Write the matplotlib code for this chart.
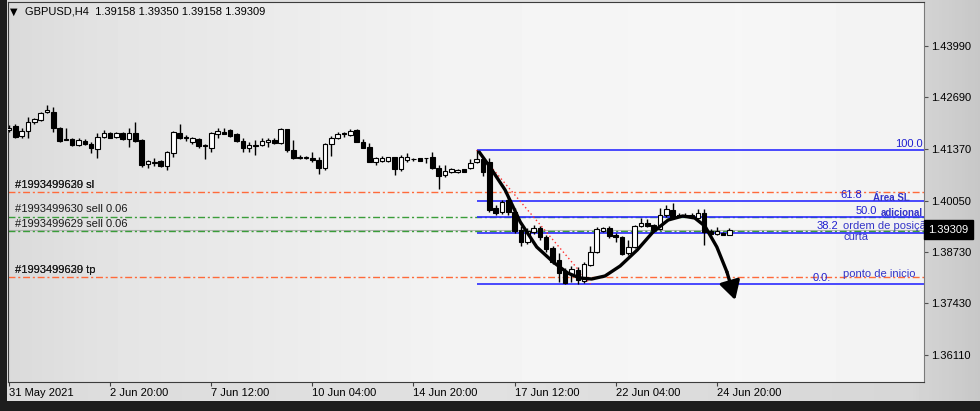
import numpy as np
import matplotlib
matplotlib.use("Agg")
import matplotlib.pyplot as plt

plt.rcParams['font.family'] = ['Liberation Sans', 'DejaVu Sans']

# ---- data ----
header = "GBPUSD,H4  1.39158 1.39350 1.39158 1.39309"

opens = [1.41848, 1.41950, 1.41695, 1.41823, 1.42052, 1.42103, 1.42307, 1.42307, 1.41899, 1.41619,
         1.41619, 1.41466, 1.41568, 1.41491, 1.41364, 1.41670, 1.41772, 1.41670, 1.41772, 1.41619,
         1.41772, 1.41593, 1.40981, 1.41007, 1.41058, 1.40930, 1.41262, 1.41772, 1.41670, 1.41542,
         1.41619, 1.41466, 1.41389, 1.41746, 1.41797, 1.41848, 1.41746, 1.41568, 1.41389, 1.41440,
         1.41466, 1.41542, 1.41593, 1.41517, 1.41874, 1.41338, 1.41160, 1.41134, 1.41134, 1.41083,
         1.40879, 1.41491, 1.41644, 1.41746, 1.41721, 1.41848, 1.41542, 1.41415, 1.41032, 1.41058,
         1.41058, 1.41160, 1.40854, 1.41083, 1.41109, 1.41134, 1.41134, 1.41160, 1.40879, 1.40701,
         1.40777, 1.40777, 1.40854, 1.40879, 1.41032, 1.41109, 1.41032, 1.39859, 1.39757, 1.40063,
         1.39757, 1.39298, 1.38992, 1.39247, 1.39349, 1.39120, 1.38839, 1.38533, 1.38253, 1.38176,
         1.38278, 1.37998, 1.38406, 1.38737, 1.39273, 1.39349, 1.39171, 1.39120, 1.38712, 1.38865,
         1.39400, 1.39477, 1.39426, 1.39324, 1.39681, 1.39808, 1.39681, 1.39655, 1.39681, 1.39604,
         1.39732, 1.39273, 1.39196, 1.39222, 1.39158]
highs = [1.41976, 1.42001, 1.41899, 1.42180, 1.42154, 1.42307, 1.42486, 1.42435, 1.41925, 1.41899,
         1.41644, 1.41644, 1.41619, 1.41542, 1.41772, 1.41848, 1.41797, 1.41797, 1.41797, 1.41899,
         1.42052, 1.41619, 1.41083, 1.41134, 1.41083, 1.41313, 1.41823, 1.42001, 1.41721, 1.41670,
         1.41644, 1.41491, 1.41797, 1.41899, 1.41899, 1.41874, 1.41772, 1.41644, 1.41542, 1.41593,
         1.41644, 1.41644, 1.41644, 1.41899, 1.41874, 1.41593, 1.41211, 1.41185, 1.41287, 1.41160,
         1.41517, 1.41695, 1.41797, 1.41797, 1.41874, 1.41874, 1.41619, 1.41517, 1.41160, 1.41185,
         1.41160, 1.41160, 1.41211, 1.41262, 1.41134, 1.41134, 1.41134, 1.41287, 1.40956, 1.40956,
         1.40879, 1.40854, 1.40854, 1.41109, 1.41338, 1.41160, 1.41134, 1.39936, 1.40063, 1.40140,
         1.39859, 1.39400, 1.39349, 1.39426, 1.39400, 1.39171, 1.38890, 1.38712, 1.38329, 1.38380,
         1.38355, 1.38482, 1.38890, 1.39375, 1.39375, 1.39400, 1.39222, 1.39145, 1.39043, 1.39426,
         1.39604, 1.39579, 1.39451, 1.39859, 1.39936, 1.39987, 1.39732, 1.39732, 1.39732, 1.39834,
         1.39834, 1.39324, 1.39375, 1.39247, 1.39350]
lows = [1.41797, 1.41644, 1.41644, 1.41644, 1.42001, 1.42078, 1.42282, 1.41797, 1.41542, 1.41593,
        1.41440, 1.41440, 1.41466, 1.41262, 1.41134, 1.41644, 1.41644, 1.41644, 1.41593, 1.41415,
        1.41542, 1.40905, 1.40879, 1.40930, 1.40905, 1.40828, 1.41160, 1.41619, 1.41568, 1.41491,
        1.41389, 1.41109, 1.41287, 1.41644, 1.41746, 1.41670, 1.41542, 1.41287, 1.41287, 1.41211,
        1.41440, 1.41415, 1.41491, 1.41491, 1.41287, 1.41109, 1.41109, 1.41109, 1.41032, 1.40726,
        1.40828, 1.41185, 1.41619, 1.41670, 1.41695, 1.41542, 1.41389, 1.41032, 1.40956, 1.41032,
        1.41032, 1.40701, 1.40803, 1.41032, 1.41058, 1.41058, 1.41007, 1.40854, 1.40344, 1.40650,
        1.40752, 1.40752, 1.40777, 1.40854, 1.41007, 1.40675, 1.39757, 1.39681, 1.39706, 1.39681,
        1.39222, 1.38890, 1.38941, 1.39196, 1.39043, 1.38737, 1.38431, 1.37972, 1.37921, 1.37972,
        1.37921, 1.37947, 1.38380, 1.38712, 1.39247, 1.39094, 1.38992, 1.38661, 1.38661, 1.38839,
        1.39375, 1.39375, 1.39273, 1.39298, 1.39630, 1.39604, 1.39630, 1.39630, 1.39630, 1.39579,
        1.38916, 1.39171, 1.39171, 1.39171, 1.39158]
closes = [1.41899, 1.41670, 1.41823, 1.42052, 1.42129, 1.42282, 1.42358, 1.41899, 1.41568, 1.41593,
          1.41466, 1.41593, 1.41491, 1.41389, 1.41670, 1.41772, 1.41644, 1.41772, 1.41619, 1.41772,
          1.41568, 1.40956, 1.41058, 1.41032, 1.40930, 1.41287, 1.41797, 1.41644, 1.41644, 1.41644,
          1.41440, 1.41440, 1.41772, 1.41823, 1.41746, 1.41695, 1.41568, 1.41389, 1.41466, 1.41466,
          1.41568, 1.41593, 1.41517, 1.41874, 1.41338, 1.41134, 1.41134, 1.41160, 1.41083, 1.40879,
          1.41491, 1.41644, 1.41746, 1.41772, 1.41823, 1.41542, 1.41389, 1.41032, 1.41134, 1.41134,
          1.41160, 1.40854, 1.41160, 1.41160, 1.41109, 1.41058, 1.41134, 1.40879, 1.40675, 1.40803,
          1.40854, 1.40828, 1.40777, 1.41007, 1.41109, 1.40777, 1.39808, 1.39732, 1.40012, 1.39757,
          1.39273, 1.38992, 1.39273, 1.39349, 1.39120, 1.38814, 1.38482, 1.38202, 1.37947, 1.38304,
          1.38023, 1.38431, 1.38737, 1.39324, 1.39349, 1.39145, 1.39120, 1.38686, 1.38865, 1.39400,
          1.39477, 1.39400, 1.39298, 1.39681, 1.39834, 1.39630, 1.39655, 1.39681, 1.39655, 1.39732,
          1.39247, 1.39196, 1.39273, 1.39158, 1.39309]

date_labels = ["31 May 2021", "2 Jun 20:00", "7 Jun 12:00", "10 Jun 04:00",
               "14 Jun 20:00", "17 Jun 12:00", "22 Jun 04:00", "24 Jun 20:00"]
bars_per_label = 16
price_ticks = [1.43990, 1.42690, 1.41370, 1.40050, 1.38730, 1.37430, 1.36110]

# fibonacci object
fib_start, fib_end = 74, 92
fib_high, fib_low = 1.41338, 1.37921
fib_levels = [0.0, 38.2, 50.0, 61.8, 100.0]
fib_texts = ["0.0.", "38.2", "50.0", "61.8", "100.0"]
fib_text_bar = [130.1, 131.2, 137.3, 135.0, 144.5]

# open orders
order_ids = ["#1993499629", "#1993499630"]
sl_price = 1.40267
tp_price = 1.38100
sell_prices = [1.39642, 1.39260]
sell_texts = ["#1993499630 sell 0.06", "#1993499629 sell 0.06"]

# hand drawn path (bar, price)
path_bars = [74.4, 76.1, 78.5, 80.9, 83.5, 86.1, 88.4, 90.3, 92.2, 94.3, 96.7,
             99.4, 101.9, 104.3, 106.6, 108.5, 110.1, 112.0, 113.6, 114.9]
path_prices = [1.41287, 1.40905, 1.40318, 1.39502, 1.38865, 1.38482, 1.38202, 1.38074,
               1.38049, 1.38125, 1.38380, 1.38788, 1.39247, 1.39553, 1.39655, 1.39604,
               1.39400, 1.38865, 1.38227, 1.37513]

# text notes (bar, price, text, size, bold)
notes = [(136.7, 1.40114, "Área SL", 7, True),
         (138.0, 1.39744, "adicional", 7, True),
         (132.0, 1.39400, "ordem de posição", 8, False),
         (132.0, 1.39107, "curta", 8, False),
         (132.0, 1.38176, "ponto de inicio", 8, False)]

# ---- layout (pixels of the 980x411 screenshot) ----
W, H = 980, 411
px_bar, x0_px = 6.32, 9.0
ax_l, ax_r, ax_t, ax_b = 8, 924, 2, 382
p0, p_px = 1.45163, 0.000255

fig = plt.figure(figsize=(W / 100, H / 100), dpi=100)
fig.patch.set_facecolor('#1d1d1d')

# window panel
panel = fig.add_axes([7 / W, 10 / H, 1 - 7 / W, 1 - 10 / H], zorder=-2)
g = np.interp(np.linspace(0, 1, 300), [0, 0.5, 0.93, 1.0], [0.86, 0.88, 0.84, 0.78])
panel.imshow(np.tile(g, (2, 1)), cmap='gray', vmin=0, vmax=1, aspect='auto',
             extent=[0, 1, 0, 1])
panel.axis('off')

rect = [ax_l / W, (H - ax_b) / H, (ax_r - ax_l) / W, (ax_b - ax_t) / H]
bg = fig.add_axes(rect, zorder=-1)
g2 = np.interp(np.linspace(0, 1, 300), [0, 0.12, 0.5, 0.8, 1.0], [0.855, 0.895, 0.955, 0.965, 0.95])
bg.imshow(np.tile(g2, (2, 1)), cmap='gray', vmin=0, vmax=1, aspect='auto', extent=[0, 1, 0, 1])
bg.axis('off')

ax = fig.add_axes(rect, zorder=1)
ax.patch.set_alpha(0)
ax.set_xlim((ax_l - x0_px) / px_bar, (ax_r - x0_px) / px_bar)
ax.set_ylim(p0 - p_px * ax_b, p0 - p_px * ax_t)

# horizontal lines
orange, green, blue = '#ff6a3a', '#3a9d3a', '#2b2bff'
dd = (0, (5, 2, 1.5, 2))
ax.axhline(sl_price, color=orange, lw=1, ls=dd, zorder=2)
ax.axhline(tp_price, color=orange, lw=1, ls=dd, zorder=2)
for sp in sell_prices:
    ax.axhline(sp, color=green, lw=1, ls=dd, zorder=2)
ax.axhline(closes[-1], color='#b4b4b4', lw=0.8, zorder=1.5)

fib_prices = [fib_low + (fib_high - fib_low) * lv / 100 for lv in fib_levels]
ax.hlines(fib_prices, fib_start, 200, color=blue, lw=1.2, zorder=2)
ax.plot([fib_start, fib_end], [fib_high, fib_low], color='#ff3030', lw=1, ls=(0, (1, 2)), zorder=2)
for fp, ft, fx in zip(fib_prices, fib_texts, fib_text_bar):
    ax.annotate(ft, xy=(fx, fp), xytext=(0, 1), textcoords='offset points',
                ha='right', va='bottom', color='#1f1fd0', fontsize=8, zorder=6)

# order labels
for oid in order_ids:
    ax.annotate(oid + " sl", xy=(1.0, sl_price), xytext=(0, 1.5), textcoords='offset points',
                ha='left', va='bottom', color='#1a1a1a', fontsize=8)
    ax.annotate(oid + " tp", xy=(1.0, tp_price), xytext=(0, 1.5), textcoords='offset points',
                ha='left', va='bottom', color='#1a1a1a', fontsize=8)
for sp, st in zip(sell_prices, sell_texts):
    ax.annotate(st, xy=(1.0, sp), xytext=(0, 1.5), textcoords='offset points',
                ha='left', va='bottom', color='#1a1a1a', fontsize=8)

# candles
o, h, l, c = map(np.array, (opens, highs, lows, closes))
idx = np.arange(len(o))
ax.vlines(idx, l, h, color='black', lw=1, zorder=3)
ax.bar(idx, np.abs(c - o), bottom=np.minimum(o, c), width=0.72,
       color=np.where(c >= o, 'white', 'black'), edgecolor='black', linewidth=0.8, zorder=4)

# drawn path with arrow
ax.plot(path_bars[:-1], path_prices[:-1], color='black', lw=2.4, solid_capstyle='round',
        solid_joinstyle='round', zorder=5)
ax.annotate('', xy=(path_bars[-1], path_prices[-1]), xytext=(path_bars[-2], path_prices[-2]),
            arrowprops=dict(arrowstyle='-|>,head_length=0.8,head_width=0.45', color='black',
                            lw=2.4, mutation_scale=14, shrinkA=0, shrinkB=0), zorder=5)

for nx, ny, nt, ns, nb in notes:
    ax.text(nx, ny, nt, fontsize=ns, fontweight='bold' if nb else 'normal', color='#3434c8',
            ha='left', va='center', clip_on=True, zorder=6)

# axes styling
for s in ['left', 'top', 'bottom']:
    ax.spines[s].set_color('#3c3c3c')
ax.spines['right'].set_color('#7a7a7a')
ax.yaxis.tick_right()
ax.set_yticks(price_ticks)
ax.set_yticklabels([f"{p:.5f}" for p in price_ticks])
ax.tick_params(axis='y', length=3, width=0.8, color='#505050', pad=2, labelsize=8, labelcolor='black')
ax.set_xticks(np.arange(len(date_labels)) * bars_per_label)
ax.set_xticklabels(date_labels, ha='left')
ax.tick_params(axis='x', length=3, width=0.8, color='#404040', pad=1, labelsize=8, labelcolor='black')

ax.annotate(f"{closes[-1]:.5f}", xy=(1, closes[-1]), xycoords=('axes fraction', 'data'),
            xytext=(3, 0), textcoords='offset points', ha='left', va='center', color='white',
            fontsize=8, bbox=dict(boxstyle='square,pad=0.4', fc='black', ec='black'),
            annotation_clip=False, zorder=7)

# header
fig.text(10 / W, 1 - 12 / H, "▼", fontsize=7, color='black', va='center', family='DejaVu Sans')
fig.text(25 / W, 1 - 12 / H, header, fontsize=8, color='black', va='center')

fig.savefig("out.png", dpi=100, facecolor=fig.get_facecolor())
